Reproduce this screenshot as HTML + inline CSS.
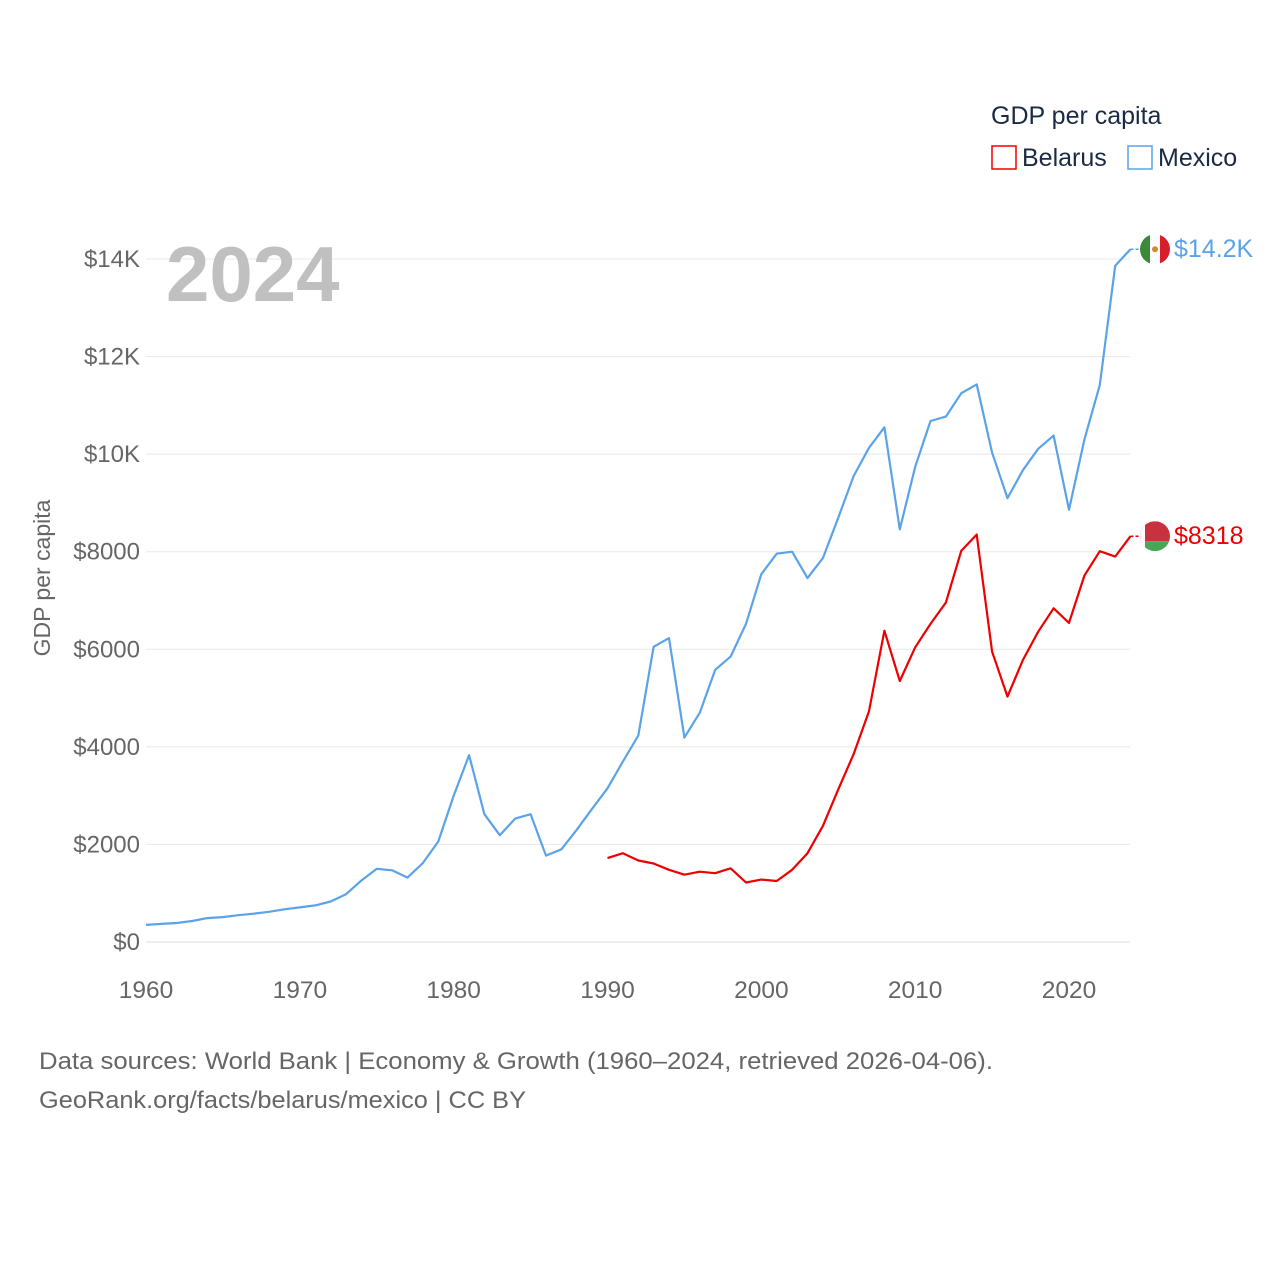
<!DOCTYPE html>
<html><head><meta charset="utf-8"><style>
html,body{margin:0;padding:0;background:#fff;}
body{width:1280px;height:1280px;overflow:hidden;font-family:"Liberation Sans",sans-serif;}
text{font-family:"Liberation Sans",sans-serif;}
</style></head><body>
<svg id="chart" width="1280" height="1280" xmlns="http://www.w3.org/2000/svg">
<g id="grid"></g>
<g id="yticks"></g>
<g id="xticks"></g>
<text x="166" y="301" font-size="78" font-weight="bold" fill="#c0c0c0">2024</text>
<text transform="translate(50,578) rotate(-90)" text-anchor="middle" font-size="23" fill="#666">GDP per capita</text>
<g id="series"></g>
<g>
<text x="991" y="124" font-size="25" fill="#1a2a44">GDP per capita</text>
<g><rect x="992" y="146" width="24" height="23" fill="none" stroke="#e00" stroke-width="1.5"/><text x="1022" y="166" font-size="25" fill="#1a2a44">Belarus</text></g>
<g><rect x="1128" y="146" width="24" height="23" fill="none" stroke="#5ba3e8" stroke-width="1.5"/><text x="1158" y="166" font-size="25" fill="#1a2a44">Mexico</text></g>
</g>
<text x="39" y="1069" font-size="24" fill="#666" textLength="954" lengthAdjust="spacingAndGlyphs">Data sources: World Bank | Economy &amp; Growth (1960–2024, retrieved 2026-04-06).</text>
<text x="39" y="1108" font-size="24" fill="#666" textLength="487" lengthAdjust="spacingAndGlyphs">GeoRank.org/facts/belarus/mexico | CC BY</text>
</svg>
<script>
const mexicoYears = [];
for (let y = 1960; y <= 2024; y++) mexicoYears.push(y);
const mexicoValues = [350,370,390,430,490,510,550,580,620,670,710,750,830,980,1260,1500,1470,1320,1620,2060,3000,3830,2620,2190,2530,2620,1770,1900,2300,2730,3150,3700,4230,6050,6230,4190,4700,5580,5850,6520,7540,7960,8000,7460,7870,8700,9550,10130,10550,8460,9740,10680,10770,11250,11430,10030,9100,9670,10110,10380,8860,10300,11420,13860,14200];
const belarusYears = [];
for (let y = 1990; y <= 2024; y++) belarusYears.push(y);
const belarusValues = [1720,1820,1670,1610,1480,1380,1440,1410,1510,1220,1280,1250,1480,1820,2380,3130,3850,4730,6380,5350,6040,6520,6960,8020,8350,5950,5030,5780,6360,6840,6540,7510,8010,7900,8318];
const yTickValues = [0,2000,4000,6000,8000,10000,12000,14000];
const yTickLabels = ["$0","$2000","$4000","$6000","$8000","$10K","$12K","$14K"];
const xTickValues = [1960,1970,1980,1990,2000,2010,2020];

const NS = "http://www.w3.org/2000/svg";
const xS = v => 146 + (v - 1960) * (1069 - 146) / 60;
const yS = v => 942 - v * (942 - 259) / 14000;
function mk(tag, attrs, parent, txt){const e=document.createElementNS(NS,tag);for(const k in attrs)e.setAttribute(k,attrs[k]);if(txt!==undefined)e.textContent=txt;parent.appendChild(e);return e;}
const grid=document.getElementById('grid'), yt=document.getElementById('yticks'), xt=document.getElementById('xticks'), ser=document.getElementById('series');
yTickValues.forEach((v,i)=>{
  const l=mk('line',{x1:146,x2:1130,y1:yS(v),y2:yS(v),stroke:v===0?'#ddd':'#e8e8e8','stroke-width':1},grid);
  
  
  const t=mk('text',{x:140,y:yS(v)+8,'text-anchor':'end','font-size':24,fill:'#666'},yt,yTickLabels[i]);
  
  
});
xTickValues.forEach(v=>{
  const t=mk('text',{x:xS(v),y:998,'text-anchor':'middle','font-size':24.5,fill:'#666'},xt,String(v));
  
  
});
function series(years, vals, color, name){
  const d=years.map((y,i)=>(i?'L':'M')+xS(y).toFixed(1)+','+yS(vals[i]).toFixed(1)).join('');
  const p=mk('path',{d:d,fill:'none',stroke:color,'stroke-width':2.2,'stroke-linejoin':'round'},ser);
  
  
  const lx=xS(years[years.length-1]), ly=yS(vals[vals.length-1]);
  mk('line',{x1:lx,x2:lx+10,y1:ly,y2:ly,stroke:color,'stroke-width':1.5,'stroke-dasharray':'3,2'},ser);
  return [lx,ly];
}
const [mx,my]=series(mexicoYears,mexicoValues,'#5ba3e8','mexico');
const [bx,by]=series(belarusYears,belarusValues,'#e00','belarus');
function flag(cx,cy,type){
  const g=mk('g',{},ser);
  
  
  const id='c'+type;
  const cp=mk('clipPath',{id:id},g); mk('circle',{cx:cx,cy:cy,r:15},cp);
  const gg=mk('g',{'clip-path':'url(#'+id+')'},g);
  if(type==='mexico'){
    mk('rect',{x:cx-15,y:cy-15,width:10,height:30,fill:'#3a8a3a'},gg);
    mk('rect',{x:cx-5,y:cy-15,width:10,height:30,fill:'#fff'},gg);
    mk('rect',{x:cx+5,y:cy-15,width:10,height:30,fill:'#d81e2a'},gg);
    mk('circle',{cx:cx,cy:cy,r:3,fill:'#d08a30'},gg);
  } else {
    mk('rect',{x:cx-15,y:cy-15,width:30,height:20,fill:'#c8313e'},gg);
    mk('rect',{x:cx-15,y:cy+5,width:30,height:10,fill:'#4aa657'},gg);
    mk('rect',{x:cx-15,y:cy-15,width:5,height:30,fill:'#fff'},gg);
  }
}
flag(1155,my,'mexico'); flag(1155,by,'belarus');
const ml=mk('text',{x:1174,y:my+8,'font-size':25,fill:'#5ba3e8'},ser,'$14.2K');


const bl=mk('text',{x:1174,y:by+8,'font-size':25,fill:'#e00'},ser,'$8318');


</script>
</body></html>
